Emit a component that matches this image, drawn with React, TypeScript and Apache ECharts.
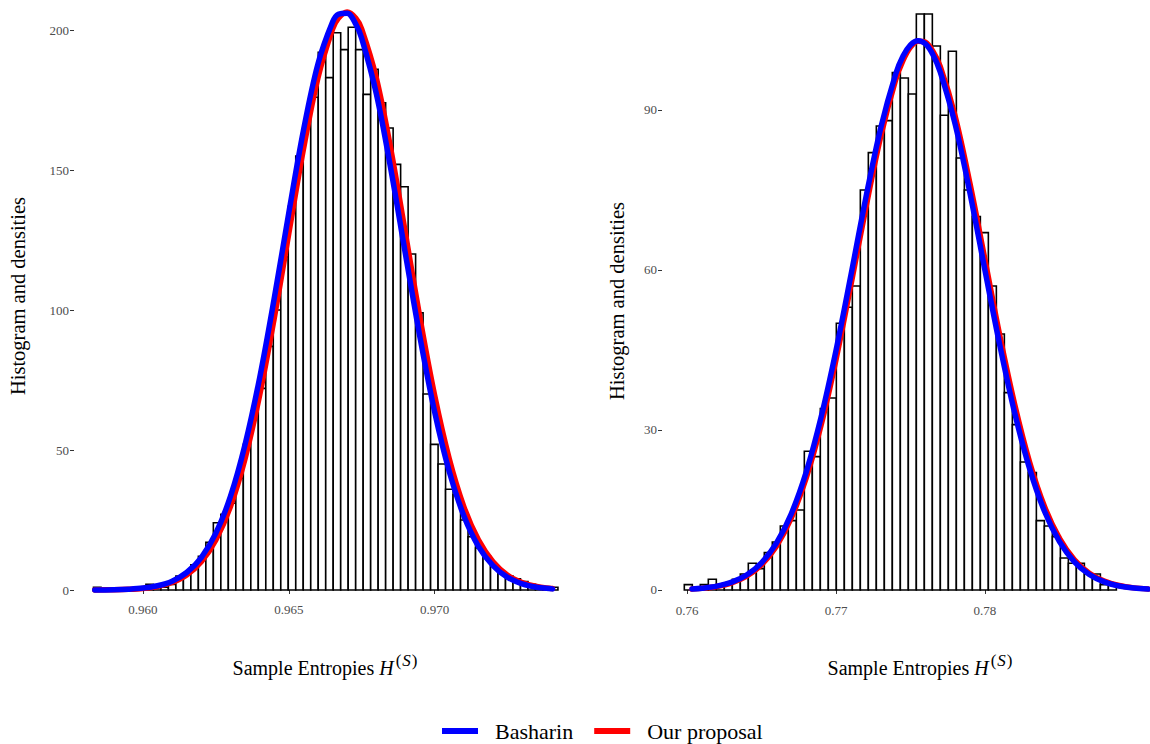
import React, { useEffect, useRef } from "react";
import * as echarts from "echarts";

// ---------- data ----------
const leftBinStart = 0.958305;
const leftBinWidth = 0.0002568;
const leftCounts = [
  1, 0, 0, 0, 0, 0, 0, 2, 1, 1,
  2, 5, 6, 9, 12, 17, 24, 27, 31, 40,
  52, 64, 72, 87, 100, 119, 137, 155, 166, 176,
  192, 183, 199, 193, 201, 193, 177, 186, 174, 165,
  152, 144, 120, 99, 70, 52, 45, 36, 34, 25,
  19, 15, 12, 9, 6, 5, 4, 3, 2, 1,
  1, 1,
];

const rightBinStart = 0.759819;
const rightBinWidth = 0.000537;
const rightCounts = [
  1, 0, 1, 2, 1, 1, 2, 3, 5, 4,
  7, 9, 12, 13, 15, 26, 25, 34, 36, 50,
  53, 57, 75, 82, 87, 88, 97, 96, 93, 108,
  108, 102, 89, 101, 81, 75, 70, 67, 57, 48,
  37, 31, 24, 22, 13, 12, 10, 6, 5, 5,
  3, 3, 1, 1,
];

const leftCurveX = [
  0.95835, 0.959, 0.9595, 0.96, 0.9605, 0.961, 0.9615, 0.962, 0.9625, 0.963,
  0.9635, 0.964, 0.9645, 0.965, 0.9655, 0.966, 0.9665, 0.9667, 0.967, 0.9673,
  0.9675, 0.968, 0.9685, 0.969, 0.9695, 0.97, 0.9705, 0.971, 0.9715, 0.972,
  0.9725, 0.973, 0.9735, 0.974, 0.97404,
];
const leftBasharin = [
  0.03, 0.11, 0.29, 0.68, 1.51, 3.16, 6.25, 11.6, 20.3, 33.4,
  51.9, 75.7, 104.1, 134.7, 164.0, 187.9, 202.8, 205.6, 206.0, 202.0,
  197.0, 177.3, 150.2, 119.9, 90.1, 63.6, 42.3, 26.5, 15.6, 8.7,
  4.5, 2.2, 1.0, 0.45, 0.4,
];
const leftProposal = [
  0.02, 0.09, 0.23, 0.55, 1.25, 2.66, 5.33, 10.1, 17.9, 29.8,
  46.9, 69.5, 97.0, 127.3, 157.3, 182.9, 200.3, 204.2, 206.4, 204.2,
  200.3, 182.9, 157.3, 127.3, 97.0, 69.5, 46.9, 29.8, 17.9, 10.1,
  5.3, 2.7, 1.25, 0.55, 0.5,
];

const rightCurveX = [
  0.76034, 0.761, 0.762, 0.763, 0.764, 0.765, 0.766, 0.767, 0.768, 0.769,
  0.77, 0.771, 0.772, 0.773, 0.774, 0.7745, 0.775, 0.7755, 0.776, 0.7765,
  0.777, 0.778, 0.779, 0.78, 0.781, 0.782, 0.783, 0.784, 0.785, 0.786,
  0.787, 0.788, 0.789, 0.79, 0.79094,
];
const rightBasharin = [
  0.2, 0.34, 0.72, 1.46, 2.8, 5.1, 8.78, 14.3, 22.1, 32.4,
  44.9, 59.0, 73.5, 86.6, 96.7, 100.1, 102.2, 103.0, 102.4, 100.4,
  97.1, 87.3, 74.3, 59.9, 45.8, 33.1, 22.7, 14.7, 9.06, 5.27,
  2.91, 1.52, 0.75, 0.35, 0.16,
];
const rightProposal = [
  0.18, 0.3, 0.66, 1.34, 2.58, 4.73, 8.21, 13.5, 21.0, 30.9,
  43.2, 57.2, 71.6, 85.0, 95.6, 99.3, 101.8, 102.9, 102.7, 101.0,
  98.1, 88.8, 76.1, 61.9, 47.6, 34.7, 23.9, 15.6, 9.67, 5.67,
  3.16, 1.66, 0.83, 0.39, 0.18,
];

const leftXTicks = [0.96, 0.965, 0.97];
const leftYTicks = [0, 50, 100, 150, 200];
const rightXTicks = [0.76, 0.77, 0.78];
const rightYTicks = [0, 30, 60, 90];

const seriesNames = ["Basharin", "Our proposal"];
const seriesColors = ["#0000FF", "#FF0000"];

// ---------- helpers ----------
const SERIF = "'Liberation Serif', 'Times New Roman', Times, serif";

function binsToItems(start: number, width: number, counts: number[]) {
  return counts.map((c, i) => [start + i * width, start + (i + 1) * width, c]);
}

function zip(xs: number[], ys: number[]) {
  return xs.map((x, i) => [x, ys[i]]);
}

function histSeries(items: number[][], axisIndex: number) {
  return {
    type: "custom",
    xAxisIndex: axisIndex,
    yAxisIndex: axisIndex,
    encode: { x: [0, 1], y: 2 },
    data: items,
    silent: true,
    z: 1,
    renderItem: (params: any, api: any) => {
      const p0 = api.coord([api.value(0), 0]);
      const p1 = api.coord([api.value(1), api.value(2)]);
      return {
        type: "rect",
        shape: { x: p0[0], y: p1[1], width: p1[0] - p0[0], height: p0[1] - p1[1] },
        style: { fill: "#ffffff", stroke: "#000000", lineWidth: 1.6 },
      };
    },
  };
}

function curveSeries(name: string, color: string, data: number[][], axisIndex: number, z: number) {
  return {
    type: "line",
    name,
    xAxisIndex: axisIndex,
    yAxisIndex: axisIndex,
    data,
    smooth: 0.35,
    showSymbol: false,
    symbol: "none",
    silent: true,
    z,
    lineStyle: { color, width: 5.5, cap: "round", join: "round" },
    itemStyle: { color },
  };
}

function xAxisCfg(gridIndex: number, min: number, max: number, ticks: number[], digits: number) {
  return {
    type: "value",
    gridIndex,
    min,
    max,
    axisLine: { show: false },
    splitLine: { show: false },
    axisTick: { show: true, customValues: ticks, length: 4, lineStyle: { color: "#333333", width: 1 } },
    axisLabel: {
      customValues: ticks,
      formatter: (v: number) => v.toFixed(digits),
      color: "#4D4D4D",
      fontSize: 13,
      fontFamily: SERIF,
      margin: 5,
    },
  };
}

function yAxisCfg(gridIndex: number, min: number, max: number, ticks: number[]) {
  return {
    type: "value",
    gridIndex,
    min,
    max,
    axisLine: { show: false },
    splitLine: { show: false },
    axisTick: { show: true, customValues: ticks, length: 4, lineStyle: { color: "#333333", width: 1 } },
    axisLabel: {
      customValues: ticks,
      formatter: (v: number) => String(v),
      color: "#4D4D4D",
      fontSize: 13,
      fontFamily: SERIF,
      margin: 5,
    },
  };
}

function xTitle(cx: number) {
  return {
    type: "text",
    x: cx,
    y: 665,
    style: {
      text: "{n|Sample Entropies }{h|H}{s|(}{si|S}{s|)}",
      align: "center",
      verticalAlign: "middle",
      rich: {
        n: { fontSize: 20, fontFamily: SERIF, fill: "#000", lineHeight: 26, verticalAlign: "bottom" },
        h: { fontSize: 20, fontFamily: SERIF, fontStyle: "italic", fill: "#000", lineHeight: 26, verticalAlign: "bottom", padding: [0, 2, 0, 0] },
        s: { fontSize: 17, fontFamily: SERIF, fill: "#000", lineHeight: 17, verticalAlign: "top" },
        si: { fontSize: 17, fontFamily: SERIF, fontStyle: "italic", fill: "#000", lineHeight: 17, verticalAlign: "top", padding: [0, 1, 0, 1] },
      },
    },
  };
}

function yTitle(cx: number, cy: number) {
  return {
    type: "text",
    x: cx,
    y: cy,
    rotation: Math.PI / 2,
    style: {
      text: "Histogram and densities",
      align: "center",
      verticalAlign: "middle",
      fontSize: 20.5,
      fontFamily: SERIF,
      fill: "#000",
    },
  };
}

export default function App() {
  const ref = useRef<HTMLDivElement>(null);

  useEffect(() => {
    document.body.style.margin = "0";
    if (!ref.current) return;
    const chart = echarts.init(ref.current, undefined, { renderer: "svg" });

    const option: any = {
      animation: false,
      backgroundColor: "#ffffff",
      textStyle: { fontFamily: SERIF },
      grid: [
        { left: 74, top: 2, width: 507, height: 596.4 },
        { left: 662, top: 3.3, width: 488, height: 595.2 },
      ],
      xAxis: [
        xAxisCfg(0, 0.957637, 0.975017, leftXTicks, 3),
        xAxisCfg(1, 0.758322, 0.791074, rightXTicks, 2),
      ],
      yAxis: [yAxisCfg(0, -3, 210, leftYTicks), yAxisCfg(1, -1.6, 110, rightYTicks)],
      legend: {
        data: seriesNames,
        left: 442,
        top: 719,
        padding: 0,
        icon: "rect",
        itemWidth: 36,
        itemHeight: 6,
        itemGap: 21,
        textStyle: { fontSize: 22, lineHeight: 24, fontFamily: SERIF, color: "#000", padding: [0, 0, 0, 12] },
      },
      graphic: [xTitle(325), xTitle(920), yTitle(18, 296), yTitle(617, 301)],
      series: [
        histSeries(binsToItems(leftBinStart, leftBinWidth, leftCounts), 0),
        histSeries(binsToItems(rightBinStart, rightBinWidth, rightCounts), 1),
        curveSeries(seriesNames[1], seriesColors[1], zip(leftCurveX, leftProposal), 0, 3),
        curveSeries(seriesNames[0], seriesColors[0], zip(leftCurveX, leftBasharin), 0, 4),
        curveSeries(seriesNames[1], seriesColors[1], zip(rightCurveX, rightProposal), 1, 3),
        curveSeries(seriesNames[0], seriesColors[0], zip(rightCurveX, rightBasharin), 1, 4),
      ],
    };
    chart.setOption(option);
    return () => chart.dispose();
  }, []);

  return <div ref={ref} style={{ position: "absolute", left: 0, top: 0, width: 1150, height: 744 }} />;
}
